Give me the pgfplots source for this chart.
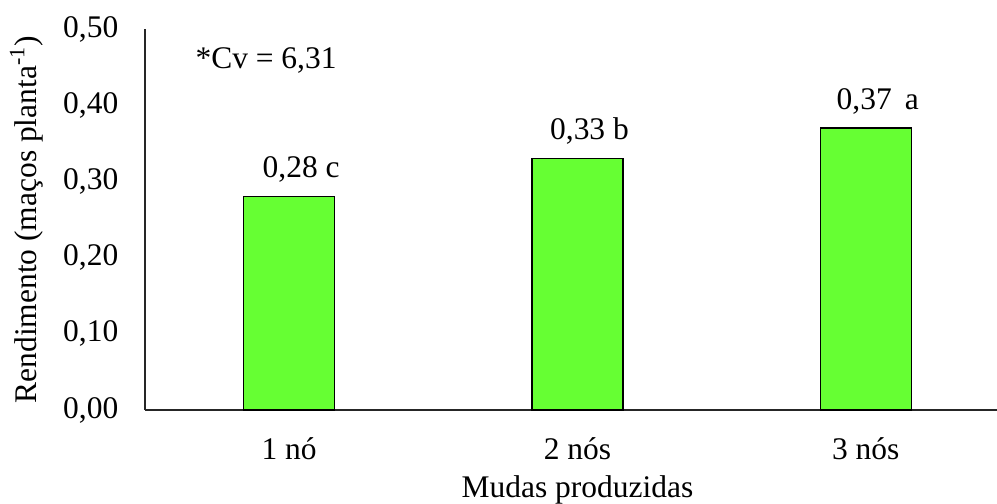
\documentclass[border=0pt]{standalone}
\usepackage{fontspec}
\setmainfont{Liberation Serif}
\usepackage{pgfplots}
\pgfplotsset{compat=1.18}
\definecolor{barverde}{RGB}{102,255,51}
\begin{document}
\begin{tikzpicture}[font=\fontsize{11.8}{14}\selectfont]
\path[use as bounding box] (0pt,0pt) rectangle (373.875pt,189pt);
\clip (0pt,0pt) rectangle (373.875pt,189pt);
\begin{axis}[
  at={(54.375pt,35.25pt)}, anchor=south west,
  scale only axis, width=324.375pt, height=142.875pt,
  ybar, bar width=34.125pt,
  xmin=-0.5, xmax=2.5, ymin=0, ymax=0.5,
  axis lines=left, axis line style={-, line width=0.7pt, black!85},
  major tick length=0pt,
  xtick={0,1,2}, xticklabels={1 nó, 2 nós, 3 nós},
  ytick={0,0.1,0.2,0.3,0.4,0.5},
  yticklabel style={xshift=-6.5pt, /pgf/number format/.cd, fixed, fixed zerofill, precision=2, use comma, assume math mode=true},
  xticklabel style={anchor=base, yshift=-18.75pt},
  xlabel={Mudas produzidas},
  xlabel style={at={(axis description cs:0.5,-0.231)}, anchor=base},
  ylabel={Rendimento (maços planta\textsuperscript{-1})},
  ylabel style={at={(axis description cs:-0.126,0.5)}, anchor=base},
  nodes near coords, point meta=explicit symbolic,
  every node near coord/.append style={anchor=base, yshift=7pt, xshift=4.5pt},
  clip=false,
]
\addplot[fill=barverde, draw=black, line width=0.6pt] coordinates {
  (0,0.28) [0,28 c]
  (1,0.33) [0,33 b]
  (2,0.37) [0,37\ \kern2pt a]
};
\node[anchor=base west, inner sep=0pt] at (axis description cs:0.0578,0.8976) {*Cv = 6,31};
\end{axis}
\end{tikzpicture}
\end{document}
